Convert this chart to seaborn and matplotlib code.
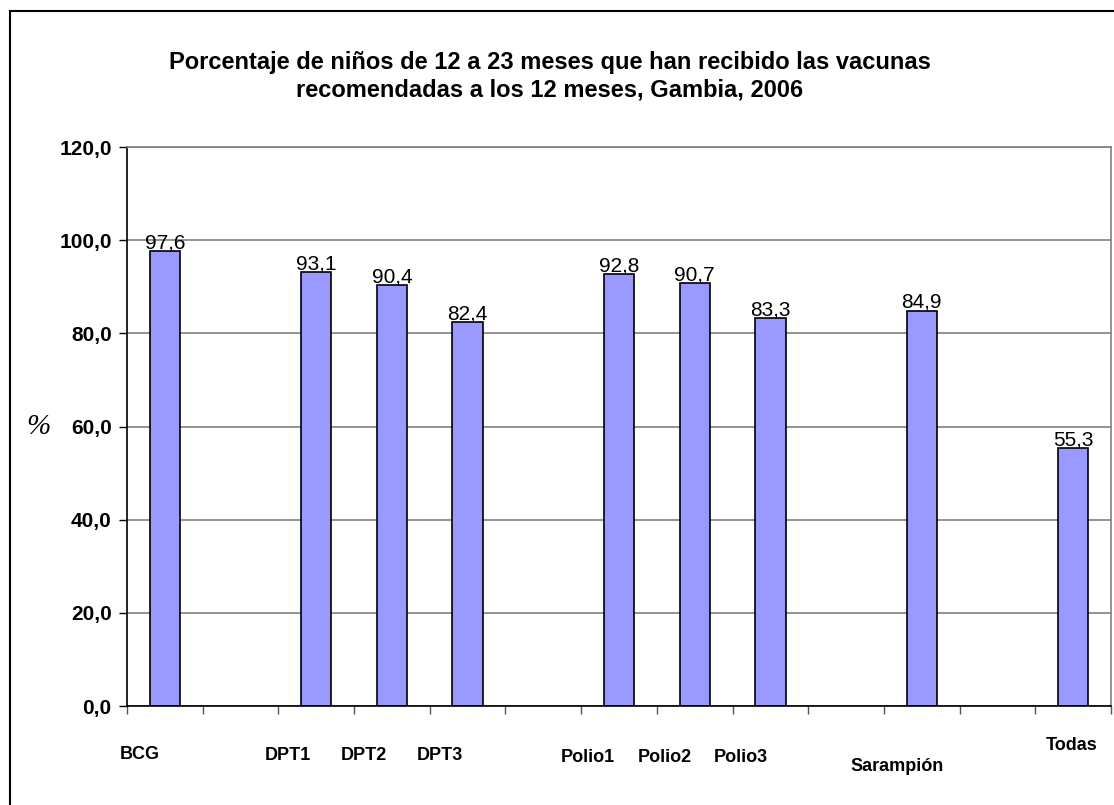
import numpy as np
import pandas as pd
import seaborn as sns
import matplotlib.pyplot as plt
from matplotlib.patches import Rectangle
from matplotlib.ticker import FuncFormatter, MultipleLocator

# slots on the category axis (empty ones are gaps in the original chart)
slots = ["BCG", "gap1", "DPT1", "DPT2", "DPT3", "gap2", "Polio1", "Polio2",
         "Polio3", "gap3", "Sarampión", "gap4", "Todas"]
vacunas = ["BCG", "DPT1", "DPT2", "DPT3", "Polio1", "Polio2", "Polio3",
           "Sarampión", "Todas"]
porcentaje = [97.6, 93.1, 90.4, 82.4, 92.8, 90.7, 83.3, 84.9, 55.3]
yticks = [0, 20, 40, 60, 80, 100, 120]

df = pd.DataFrame({"vacuna": vacunas, "pct": porcentaje})

sns.set_style("white")
plt.rcParams["font.family"] = ["Liberation Sans", "DejaVu Sans"]
plt.rcParams["text.color"] = "black"
plt.rcParams["xtick.color"] = "black"
plt.rcParams["ytick.color"] = "black"

fig = plt.figure(figsize=(11.14, 8.05), dpi=100)
ax = fig.add_axes([127 / 1114, 1 - 706 / 805, (1111 - 127) / 1114, (706 - 147) / 805])

sns.barplot(data=df, x="vacuna", y="pct", order=slots, color="#9999FF",
            saturation=1, width=0.4, edgecolor="black", linewidth=1.2, ax=ax)

ax.set_xlim(-0.5, len(slots) - 0.5)
ax.set_ylim(0, 120)
ax.set_yticks(yticks)
ax.yaxis.set_major_formatter(FuncFormatter(lambda v, p: f"{v:.1f}".replace(".", ",")))
ax.yaxis.grid(True, color="#808080", linewidth=1.2)
ax.set_axisbelow(True)
ax.tick_params(axis="y", left=True, length=6, width=1, labelsize=15, pad=5,
               labelcolor="black")
for t in ax.get_yticklabels():
    t.set_fontweight("bold")

# ticks between slots, labels drawn separately
ax.set_xticks([])
ax.xaxis.set_minor_locator(MultipleLocator(1, offset=0.5))
ax.tick_params(axis="x", which="minor", bottom=True, length=6, width=1, color="#555555")
ax.set_xlabel("")
ax.set_ylabel("")

for s in ["left", "bottom"]:
    ax.spines[s].set_color("black")
    ax.spines[s].set_linewidth(1.2)
for s in ["top", "right"]:
    ax.spines[s].set_color("#808080")
    ax.spines[s].set_linewidth(1.2)

# category labels (offset like in the original layout)
label_offsets = {"BCG": (-25, -48), "DPT1": (-28, -49), "DPT2": (-28, -49),
                 "DPT3": (-28, -49), "Polio1": (-31, -51), "Polio2": (-30, -51),
                 "Polio3": (-30, -51), "Sarampión": (-25, -60), "Todas": (-2, -39)}
for name in vacunas:
    dx, dy = label_offsets[name]
    ax.annotate(name, xy=(slots.index(name), 0), xycoords=("data", "axes fraction"),
                xytext=(dx, dy), textcoords="offset pixels", ha="center", va="center",
                fontsize=13, fontweight="bold", color="black", annotation_clip=False)

cont = ax.containers[0]
ax.bar_label(cont, labels=[f"{v:.1f}".replace(".", ",") for v in cont.datavalues],
             padding=-1, fontsize=15, color="black")

fig.text(38 / 1114, 1 - 427 / 805, "%", family=["Liberation Serif", "DejaVu Serif"],
         style="italic", fontsize=21, ha="center", va="center", color="black")

fig.text(550 / 1114, 1 - 62 / 805,
         "Porcentaje de niños de 12 a 23 meses que han recibido las vacunas",
         ha="center", va="center", fontsize=17, fontweight="bold", color="black")
fig.text(550 / 1114, 1 - 90 / 805, "recomendadas a los 12 meses, Gambia, 2006",
         ha="center", va="center", fontsize=17, fontweight="bold", color="black")

# outer chart frame
fig.patches.append(Rectangle((10 / 1114, -0.05), 1.1, 1.05 - 11 / 805,
                             transform=fig.transFigure, fill=False,
                             edgecolor="black", linewidth=1.5, clip_on=False))

fig.savefig("out.png", dpi=100)
